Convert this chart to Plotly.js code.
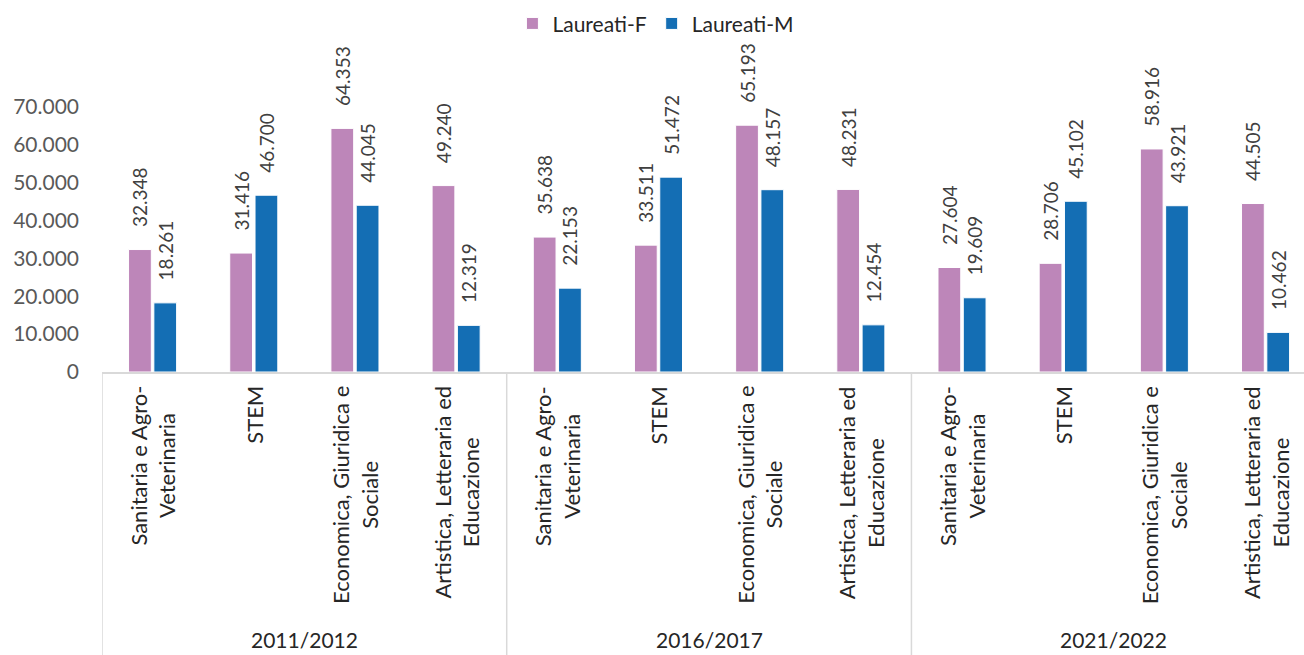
<!DOCTYPE html>
<html>
<head>
<meta charset="utf-8">
<script src="https://cdn.plot.ly/plotly-3.0.1.min.js"></script>
<style>
  html, body { margin: 0; padding: 0; background: #fff; }
  #chart { width: 1304px; height: 655px; }
</style>
</head>
<body>
<div id="chart"></div>
<script>
// Laureati per area disciplinare e sesso
const years = ['2011/2012', '2016/2017', '2021/2022'];
const fields = [
    'Sanitaria e Agro-<br>Veterinaria',
    'STEM',
    'Economica, Giuridica e<br>Sociale',
    'Artistica, Letteraria ed<br>Educazione'
];
const laureatiF = [32348, 31416, 64353, 49240, 35638, 33511, 65193, 48231, 27604, 28706, 58916, 44505];
const laureatiM = [18261, 46700, 44045, 12319, 22153, 51472, 48157, 12454, 19609, 45102, 43921, 10462];

const FONT = 'Lato, "Open Sans", sans-serif';
const GRID = '#d9d9d9';

// one unique category per (year, field) pair
const keys = [];
const labels = [];
years.forEach(y => fields.forEach(f => { keys.push(y + ' | ' + f); labels.push(f); }));

function barTrace(name, values, color) {
    return {
        type: 'bar',
        name,
        x: keys,
        y: values,
        marker: { color, line: { color: '#ffffff', width: 1 } },
        // leading nbsp keeps the rotated label a little off the bar top
        texttemplate: '\u00a0\u00a0\u00a0\u00a0%{y:,.0f}',
        textposition: 'outside',
        textangle: -90,
        constraintext: 'none',
        cliponaxis: false,
        textfont: { family: FONT, size: 19, color: '#404040' },
        hoverinfo: 'skip'
    };
}

const traces = [
    barTrace('Laureati-F', laureatiF, '#bd86b9'),
    barTrace('Laureati-M', laureatiM, '#146eb4')
];

// category labels, rotated and centred line by line
const annotations = keys.map((k, i) => ({
    x: k, xref: 'x',
    y: 0, yref: 'paper',
    yshift: -12,
    yanchor: 'top',
    xanchor: 'center',
    text: labels[i],
    textangle: -90,
    align: 'center',
    showarrow: false,
    font: { family: FONT, size: 22, color: '#262626' }
}));

// year group labels and dividers
const shapes = [];
years.forEach((y, g) => {
    const first = g * fields.length;
    annotations.push({
        x: first + (fields.length - 1) / 2, xref: 'x',
        y: 0, yref: 'paper',
        yshift: -267,
        yanchor: 'middle',
        text: y,
        showarrow: false,
        font: { family: FONT, size: 21, color: '#262626' }
    });
    shapes.push({
        type: 'line', xref: 'x', yref: 'paper',
        x0: first - 0.5, x1: first - 0.5, y0: 0, y1: -1.07,
        line: { color: GRID, width: 1.5 }
    });
});

const layout = {
    width: 1304,
    height: 655,
    separators: ',.',
    font: { family: FONT, color: '#404040' },
    paper_bgcolor: '#ffffff',
    plot_bgcolor: '#ffffff',
    margin: { l: 102, r: 0, t: 107, b: 283 },
    barmode: 'group',
    bargap: 0.5,
    bargroupgap: 0.1,
    showlegend: true,
    legend: {
        orientation: 'h',
        xref: 'container', yref: 'container',
        x: 0.503, xanchor: 'center',
        y: 0.995, yanchor: 'top',
        font: { family: FONT, size: 21, color: '#262626' },
        itemwidth: 30
    },
    xaxis: {
        type: 'category',
        range: [-0.5, 11.38],
        showline: true,
        linecolor: GRID,
        linewidth: 1.5,
        showgrid: false,
        ticks: '',
        showticklabels: false
    },
    yaxis: {
        range: [0, 70000],
        dtick: 10000,
        tickformat: ',.0f',
        showgrid: false,
        zeroline: false,
        showline: false,
        ticks: '',
        ticklabelstandoff: 22,
        tickfont: { family: FONT, size: 21, color: '#595959' }
    },
    annotations,
    shapes
};

Plotly.newPlot('chart', traces, layout, { displayModeBar: false, staticPlot: true });
</script>
</body>
</html>
